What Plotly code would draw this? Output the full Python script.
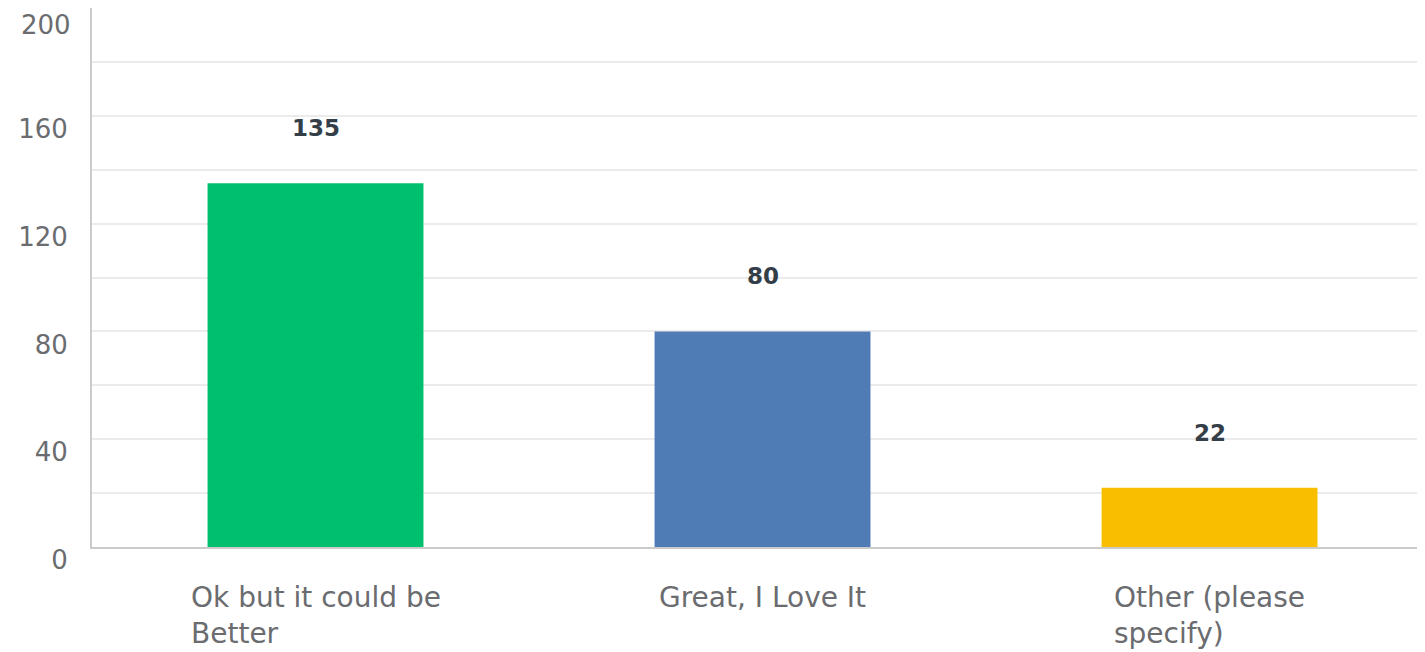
import plotly.graph_objects as go

categories = ["Ok but it could be<br>Better", "Great, I Love It", "Other (please<br>specify)"]
values = [135, 80, 22]
colors = ["#00BF6F", "#507CB6", "#F9BE00"]
y_ticks = [0, 40, 80, 120, 160, 200]
grid_vals = [20, 40, 60, 80, 100, 120, 140, 160, 180]

FONT = "DejaVu Sans"
TICK_COLOR = "#6A6C6F"

fig = go.Figure()
fig.add_trace(go.Bar(
    x=list(range(len(categories))),
    y=values,
    marker=dict(color=colors, line=dict(width=0)),
    width=0.483,
    hoverinfo="skip",
))

for i, (cat, v) in enumerate(zip(categories, values)):
    fig.add_annotation(
        x=i, y=v, xref="x", yref="y", text=str(v), showarrow=False,
        yanchor="bottom", yshift=40,
        font=dict(family=FONT, size=23, color="#333E48", weight="bold"),
    )
    fig.add_annotation(
        x=i, y=0, xref="x", yref="paper", text=cat, showarrow=False,
        yanchor="top", yshift=-32, xanchor="center", align="left",
        font=dict(family=FONT, size=28, color=TICK_COLOR),
    )

# top tick label (plotly drops the label at the very top edge)
fig.add_annotation(
    x=0, y=y_ticks[-1], xref="paper", yref="y", text=str(y_ticks[-1]), showarrow=False,
    xanchor="right", yanchor="top", xshift=-19, yshift=0,
    font=dict(family=FONT, size=26, color=TICK_COLOR),
)

fig.update_layout(
    width=1417, height=644,
    margin=dict(l=84, r=0, t=0, b=105),
    plot_bgcolor="white", paper_bgcolor="white",
    showlegend=False,
    xaxis=dict(
        range=[-0.5, 2.482], showticklabels=False, showgrid=False,
        zeroline=False, showline=True, linecolor="#CBCBCB", linewidth=2,
        fixedrange=True,
    ),
    yaxis=dict(
        range=[0, 200], tickvals=y_ticks[:-1], showgrid=False, zeroline=False,
        showline=True, linecolor="#CBCBCB", linewidth=2,
        tickfont=dict(family=FONT, size=26, color=TICK_COLOR),
        ticklabelstandoff=17, ticklabelshift=13,
        minor=dict(tickvals=grid_vals, showgrid=True, gridcolor="#EBEBEB", gridwidth=2, ticks=""),
    ),
)

fig.write_html("out.html")
